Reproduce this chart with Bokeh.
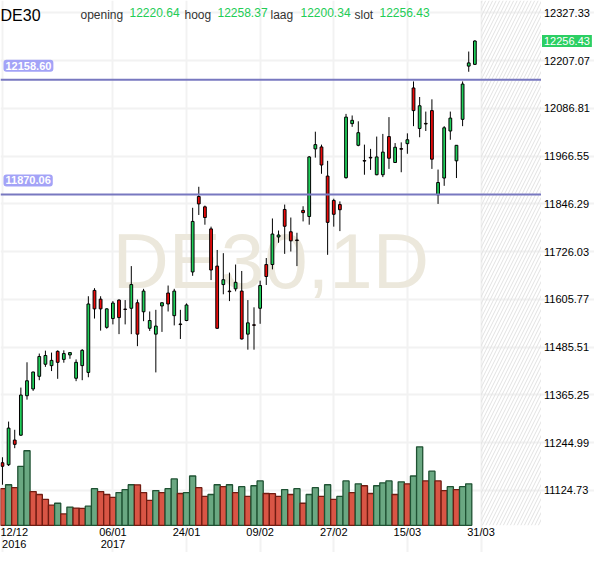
from bokeh.plotting import figure
from bokeh.models import (Range1d, FixedTicker, PrintfTickFormatter, Label,
                          BoxAnnotation, ColumnDataSource)
from bokeh.embed import file_html
from bokeh.resources import INLINE

# ---------------- data (DE30 daily, 12/12/2016 - 30/03/2017) ----------------
day = list(range(78))
open_ = [11194.5, 11189.6, 11251.7, 11264.0, 11363.3, 11380.4, 11412.2, 11442.6, 11439.1, 11475.1,
         11454.8, 11466.1, 11407.3, 11439.1, 11422.0, 11628.5, 11606.5, 11535.5, 11557.6, 11604.1,
         11581.5, 11583.5, 11597.4, 11574.7, 11533.1, 11518.4, 11589.4, 11621.9, 11564.9, 11544.0,
         11552.7, 11675.0, 11864.9, 11838.9, 11783.4, 11689.7, 11643.2, 11626.8, 11632.4, 11626.8,
         11518.4, 11542.0, 11583.5, 11693.6, 11693.6, 11763.1, 11832.3, 11776.1, 11755.5, 11829.9,
         11814.5, 11984.8, 11989.7, 11916.3, 11855.1, 11844.6, 11912.3, 12048.4, 11993.8, 11955.5,
         11963.5, 11919.7, 11919.7, 12015.8, 11950.5, 11985.5, 11998.0, 12138.2, 12036.2, 12049.0,
         12081.2, 11869.0, 11911.4, 12029.8, 11954.7, 12059.2, 12193.2, 12197.6]
high = [11208.4, 11298.2, 11277.6, 11383.8, 11447.5, 11423.8, 11469.5, 11476.8, 11471.9, 11477.6,
        11477.6, 11472.5, 11454.8, 11480.7, 11613.8, 11634.1, 11613.8, 11583.5, 11601.6, 11606.0,
        11604.1, 11689.7, 11605.5, 11632.4, 11575.4, 11579.6, 11598.0, 11640.8, 11632.4, 11579.6,
        11595.7, 11836.5, 11889.4, 11842.1, 11789.0, 11730.3, 11722.2, 11673.3, 11693.6, 11677.4,
        11604.1, 11585.9, 11653.0, 11710.0, 11809.6, 11779.2, 11844.6, 11812.0, 11773.6, 11840.4,
        11966.9, 12028.1, 11995.5, 11954.7, 11859.3, 11852.6, 12072.9, 12068.9, 12054.3, 11995.5,
        11984.8, 12015.8, 12022.5, 12064.8, 11999.5, 12001.2, 12023.9, 12154.6, 12115.4, 12078.7,
        12109.6, 11932.7, 12042.0, 12078.7, 11994.5, 12154.6, 12229.9, 12258.37]
low = [11139.2, 11186.4, 11231.2, 11262.2, 11353.5, 11375.5, 11402.4, 11436.0, 11425.4, 11405.9,
       11446.5, 11456.3, 11400.0, 11402.4, 11409.8, 11557.6, 11527.2, 11532.1, 11542.9, 11518.4,
       11542.9, 11518.4, 11488.1, 11551.0, 11526.5, 11422.0, 11524.0, 11575.4, 11540.4, 11506.2,
       11551.0, 11665.2, 11818.4, 11793.9, 11654.5, 11531.5, 11618.7, 11601.6, 11626.1, 11505.0,
       11479.3, 11479.3, 11544.4, 11642.2, 11681.4, 11748.4, 11720.5, 11726.4, 11689.7, 11802.2,
       11793.9, 11962.8, 11922.1, 11718.1, 11789.0, 11777.8, 11909.9, 12040.3, 11991.4, 11919.7,
       11931.9, 11918.5, 11913.8, 11934.4, 11949.5, 11926.0, 11972.5, 12042.0, 12014.1, 12029.8,
       11934.4, 11846.3, 11891.8, 12007.8, 11911.4, 12042.0, 12179.0, 12196.0]
close = [11185.7, 11281.8, 11240.9, 11365.0, 11401.0, 11423.0, 11462.1, 11464.6, 11452.3, 11447.4,
         11469.5, 11471.9, 11447.4, 11477.6, 11594.3, 11582.0, 11582.0, 11582.0, 11596.7, 11560.0,
         11580.5, 11643.2, 11518.4, 11626.8, 11552.7, 11538.7, 11597.4, 11594.3, 11626.8, 11542.5,
         11591.8, 11802.2, 11846.3, 11812.0, 11679.9, 11533.1, 11655.4, 11625.3, 11648.8, 11506.2,
         11546.8, 11540.5, 11640.8, 11663.5, 11770.4, 11768.0, 11790.0, 11753.3, 11754.0, 11824.3,
         11964.5, 11995.5, 11944.2, 11799.8, 11820.1, 11831.6, 12064.8, 12056.7, 12025.6, 11954.0,
         11962.0, 11964.5, 11976.7, 11961.3, 11988.9, 11984.0, 12007.8, 12081.2, 12093.4, 12047.5,
         11958.8, 11900.1, 12037.9, 12062.3, 11993.8, 12148.0, 12201.3, 12256.43]
# volume in thousands of contracts (last session not yet reported)
volume = [37.7, 41.7, 38.7, 60.7, 76.7, 34.7, 31.7, 26.7, 20.7, 22.7,
          11.7, 18.7, 17.7, 17.5, 19.7, 37.7, 34.7, 31.7, 28.7, 33.7,
          36.7, 41.7, 41.6, 33.7, 25.7, 35.7, 33.7, 37.7, 47.7, 32.7,
          33.7, 50.7, 38.7, 29.7, 31.7, 41.7, 39.7, 41.7, 33.7, 39.7,
          29.7, 40.7, 45.7, 32.7, 32.5, 29.7, 36.7, 31.7, 37.7, 22.7,
          31.7, 38.7, 29.7, 41.7, 26.7, 29.7, 45.7, 33.7, 42.7, 40.7,
          32.7, 40.7, 43.7, 45.7, 31.7, 44.7, 42.7, 50.7, 80.7, 45.7,
          55.7, 45.7, 35.7, 39.7, 36.7, 39.7, 42.7]

price_ticks = [12327.33, 12207.07, 12086.81, 11966.55, 11846.29, 11726.03,
               11605.77, 11485.51, 11365.25, 11244.99, 11124.73]
date_labels = ["12/12\n2016", "06/01\n2017", "24/01", "09/02", "27/02", "15/03", "31/03"]
date_label_days = [1.86, 18, 30, 42, 54, 66, 78]
grid_days = [0, 18, 30, 42, 54, 66, 78]
levels = [12158.60, 11870.06]
symbol = "DE30"
watermark = "DE30,1D"
header_names = ["opening", "hoog", "laag", "slot"]
header_values = [12220.64, 12258.37, 12200.34, 12256.43]
last_price = 12256.43

# ---------------- styles / geometry ----------------
FONT = "Liberation Sans"
UP = "#1fcf5a"
DOWN = "#ec0a0a"
VUP, VUP_LINE = "#6aa882", "#1f5233"
VDN, VDN_LINE = "#d95545", "#701c12"

# whole canvas in data units; the price pane ends at XP (right) and YP (bottom)
X0, X1, XP = -0.32, 96.5, 87.78
Y0, Y1, YP = 10968.6, 12358.4, 11037.1
V0, V1 = -28, 540          # volume scale, 0 at the pane bottom

p = figure(width=594, height=552, x_range=Range1d(X0, X1), y_range=Range1d(Y0, Y1),
           output_backend="svg", toolbar_location=None, y_axis_location="right",
           min_border=0, min_border_left=0, min_border_top=0, min_border_right=0,
           min_border_bottom=0)
p.outline_line_color = None
p.background_fill_color = "white"
p.border_fill_color = "white"

# grids (limited to the price pane)
p.xgrid.ticker = FixedTicker(ticks=grid_days)
p.xgrid.bounds = (YP, Y1)
p.ygrid.ticker = FixedTicker(ticks=price_ticks)
p.ygrid.bounds = (X0, XP)
for g in (p.xgrid, p.ygrid):
    g.grid_line_color = "#f2f2f2"
    g.grid_line_width = 2

# future (hatched) zone
p.add_layout(BoxAnnotation(left=grid_days[-1], right=XP, bottom=YP, fill_alpha=0,
                           line_color=None, hatch_pattern="/", hatch_color="#e2e2e2",
                           hatch_weight=1, hatch_scale=7, level="underlay"))

# watermark
p.add_layout(Label(x=(X0 + XP) / 2, y=(YP + Y1) / 2, y_offset=2, text=watermark,
                   text_align="center", text_baseline="middle", text_font=FONT,
                   text_font_size="78px", text_color="#ece8dc", level="underlay"))

# volume
p.extra_y_ranges = {"vol": Range1d(V0, V1)}
vfill = [VDN] + [VUP if volume[i] > volume[i - 1] else VDN for i in range(1, len(volume))]
vline = [VUP_LINE if c == VUP else VDN_LINE for c in vfill]
vsrc = ColumnDataSource(dict(x=day[:len(volume)], top=volume, fill=vfill, line=vline))
p.vbar(x="x", top="top", bottom=0, width=1.0, source=vsrc, y_range_name="vol",
       fill_color="fill", line_color="line", line_width=1.3)

# candles
body_top = [max(o, c) for o, c in zip(open_, close)]
body_bot = [min(o, c) for o, c in zip(open_, close)]
ccol = [UP if c >= o else DOWN for o, c in zip(open_, close)]
csrc = ColumnDataSource(dict(x=day, high=high, low=low, top=body_top, bot=body_bot, col=ccol))
p.segment(x0="x", y0="low", x1="x", y1="high", source=csrc, line_color="black", line_width=1)
p.vbar(x="x", top="top", bottom="bot", width=0.45, source=csrc,
       fill_color="col", line_color="black", line_width=1)

# horizontal levels with tags
p.segment(x0=[X0] * len(levels), x1=[XP] * len(levels), y0=levels, y1=levels,
          line_color="#7878c0", line_width=2)
for lv in levels:
    p.add_layout(Label(x=X0, y=lv, x_offset=3, y_offset=8, text=f"{lv:.2f}",
                       text_align="left", text_baseline="bottom", text_font=FONT,
                       text_font_size="11px", text_font_style="bold", text_color="white",
                       background_fill_color="#a3a3f7", padding=2, border_radius=3))

# last price tag on the price axis
p.add_layout(Label(x=XP, y=last_price, x_offset=1, text=f"{last_price:.2f}",
                   text_align="left", text_baseline="middle", text_font=FONT,
                   text_font_size="11px", text_color="white",
                   background_fill_color="#2bcf63", padding=2))

# header
p.add_layout(Label(x=X0, y=Y1, x_offset=0, y_offset=-14.5, text=symbol,
                   text_baseline="alphabetic", text_font=FONT, text_font_size="16px",
                   text_color="black"))
name_x = [80, 184, 270, 354]
val_x = [129, 217, 300, 379]
for nm, vv, nx, vx in zip(header_names, header_values, name_x, val_x):
    p.add_layout(Label(x=X0, y=Y1, x_offset=nx, y_offset=-14.5, text=nm,
                       text_baseline="alphabetic", text_font=FONT, text_font_size="12px",
                       text_color="#333333"))
    p.add_layout(Label(x=X0, y=Y1, x_offset=vx, y_offset=-12, text=f"{vv:.2f}",
                       text_baseline="alphabetic", text_font=FONT, text_font_size="12px",
                       text_color="#22cc55"))

# axes, pinned to the edges of the price pane
xa = p.xaxis[0]
xa.ticker = FixedTicker(ticks=date_label_days)
xa.major_label_overrides = {d: l for d, l in zip(date_label_days, date_labels)}
xa.fixed_location = YP
xa.bounds = (X0, XP)
ya = p.yaxis[0]
ya.ticker = FixedTicker(ticks=price_ticks)
ya.formatter = PrintfTickFormatter(format="%.2f")
ya.fixed_location = XP
ya.bounds = (YP, Y1)
for ax in (xa, ya):
    ax.axis_label = None
    ax.axis_line_color = None
    ax.major_tick_line_color = None
    ax.minor_tick_line_color = None
    ax.major_tick_out = 0
    ax.major_tick_in = 0
    ax.minor_tick_out = 0
    ax.minor_tick_in = 0
    ax.major_label_text_font = FONT
    ax.major_label_text_font_size = "11px"
    ax.major_label_text_color = "black"
xa.major_label_text_line_height = 0.95
xa.major_label_standoff = 1
ya.major_label_standoff = 3

open("out.html", "w").write(file_html(p, INLINE))
